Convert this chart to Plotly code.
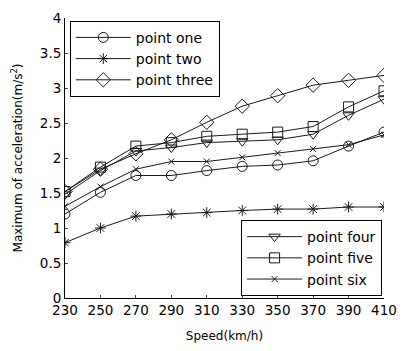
import plotly.graph_objects as go

speed = [230, 250, 270, 290, 310, 330, 350, 370, 390, 410]
point_one = [1.20, 1.51, 1.75, 1.75, 1.82, 1.88, 1.90, 1.96, 2.17, 2.37]
point_two = [0.79, 1.00, 1.17, 1.20, 1.22, 1.25, 1.27, 1.27, 1.30, 1.30]
point_three = [1.52, 1.84, 2.06, 2.26, 2.51, 2.74, 2.89, 3.04, 3.11, 3.18]
point_four = [1.48, 1.82, 2.10, 2.15, 2.22, 2.24, 2.26, 2.34, 2.61, 2.84]
point_five = [1.52, 1.87, 2.17, 2.22, 2.31, 2.34, 2.37, 2.45, 2.73, 2.96]
point_six = [1.31, 1.59, 1.84, 1.95, 1.95, 2.01, 2.07, 2.13, 2.19, 2.33]

x_ticks = speed
y_ticks = [0, 0.5, 1, 1.5, 2, 2.5, 3, 3.5, 4]
y_tick_text = ["0", "0.5", "1", "1.5", "2", "2.5", "3", "3.5", "4"]

series = [
    ("point one", point_one, "circle-open", 10, "legend"),
    ("point two", point_two, "asterisk-open", 9, "legend"),
    ("point three", point_three, "diamond-open", 11, "legend"),
    ("point four", point_four, "triangle-down-open", 10, "legend2"),
    ("point five", point_five, "square-open", 10, "legend2"),
    ("point six", point_six, "x-thin-open", 6, "legend2"),
]

fig = go.Figure()
for name, vals, sym, sz, lg in series:
    fig.add_trace(go.Scatter(
        x=speed, y=vals, name=name, mode="lines+markers",
        line=dict(color="#1a1a1a", width=1),
        marker=dict(symbol=sym, size=sz, color="#1a1a1a",
                    line=dict(color="#1a1a1a", width=1)),
        legend=lg,
    ))

font_family = "DejaVu Sans, Arial, sans-serif"
fig.update_layout(
    width=407, height=351,
    margin=dict(l=65, r=14, t=10, b=53),
    paper_bgcolor="white", plot_bgcolor="white",
    font=dict(family=font_family, size=12, color="black"),
    showlegend=True,
    legend=dict(
        x=0.015, y=0.99, xanchor="left", yanchor="top",
        bgcolor="white", bordercolor="black", borderwidth=1,
        font=dict(size=14), tracegroupgap=0, itemwidth=55,
    ),
    legend2=dict(
        x=0.994, y=0.007, xanchor="right", yanchor="bottom",
        bgcolor="white", bordercolor="black", borderwidth=1,
        font=dict(size=14), tracegroupgap=0, itemwidth=55,
    ),
    xaxis=dict(
        range=[230, 410], tickvals=x_ticks, ticks="inside", ticklen=3,
        showline=True, linecolor="black", linewidth=1, mirror=False,
        showgrid=False, zeroline=False, tickfont=dict(size=13.5),
        title=dict(text="Speed(km/h)", font=dict(size=12), standoff=14),
    ),
    yaxis=dict(
        range=[0, 4], tickvals=y_ticks, ticktext=y_tick_text,
        ticks="inside", ticklen=3,
        showline=True, linecolor="black", linewidth=1, mirror=False,
        showgrid=False, zeroline=False, tickfont=dict(size=13.5),
        title=dict(text="Maximum of acceleration(m/s<sup>2</sup>)",
                   font=dict(size=12), standoff=14),
    ),
)

fig.write_html("out.html")
